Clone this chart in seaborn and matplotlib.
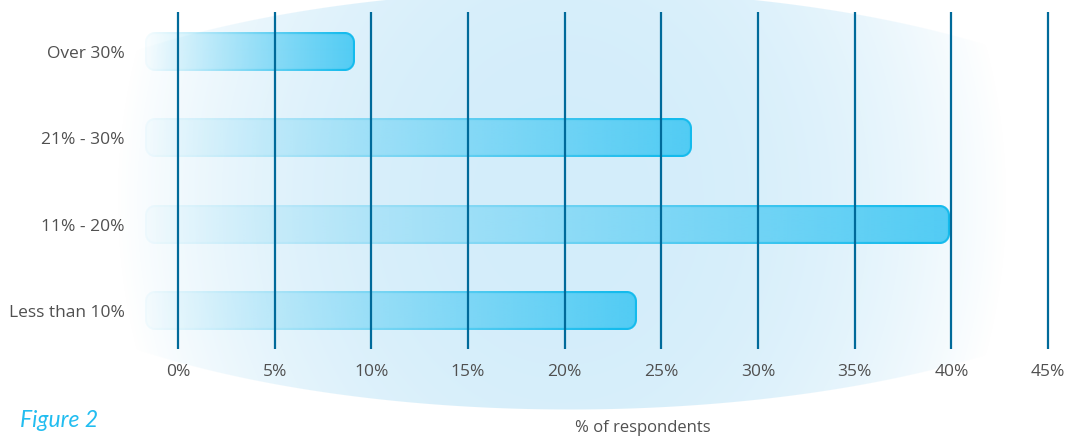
import numpy as np
import matplotlib
matplotlib.use("Agg")
import matplotlib.pyplot as plt
import seaborn as sns

# ---- data ----
categories = ["Over 30%", "21% - 30%", "11% - 20%", "Less than 10%"]
values = [9.15, 26.55, 39.9, 23.7]
tick_values = [0, 5, 10, 15, 20, 25, 30, 35, 40, 45]
tick_labels = [f"{t}%" for t in tick_values]
x_label = "% of respondents"
figure_caption = "Figure 2"

sns.set_theme(style="white")
plt.rcParams["font.family"] = ["Open Sans", "DejaVu Sans"]

W_PX, H_PX = 1071, 440
fig = plt.figure(figsize=(W_PX / 100, H_PX / 100), dpi=100)
fig.patch.set_facecolor("white")

# ---- background glow ----
bg = fig.add_axes([0, 0, 1, 1], zorder=0)
bg.set_xlim(0, W_PX)
bg.set_ylim(H_PX, 0)
bg.axis("off")
yy, xx = np.mgrid[0:H_PX, 0:W_PX] + 0.5
d = np.sqrt(((xx - 562) / 445.0) ** 2 + ((yy - 200) / 520.0) ** 2)
inten = np.clip(1 - d ** 2.6, 0, 1)
e = ((xx - 570) / 620.0) ** 2 + ((yy - 200) / 210.0) ** 2
edge = np.clip((1 - np.sqrt(e)) * 210, 0, 1)
glow = np.zeros((H_PX, W_PX, 4))
glow[..., 0] = 0xd3 / 255
glow[..., 1] = 0xed / 255
glow[..., 2] = 0xfa / 255
glow[..., 3] = inten * edge
bg.imshow(glow, extent=(0, W_PX, H_PX, 0), interpolation="bilinear", aspect="auto")

# ---- main axes ----
ax = fig.add_axes([140 / W_PX, 1 - 349 / H_PX, 920 / W_PX, 337 / H_PX], zorder=1)
ax.patch.set_alpha(0)
sns.barplot(x=values, y=categories, orient="h", ax=ax, width=0.44, color="#4ecbf4")

XLIM = (-1.966, 45.62)
YLIM = (3.44, -0.462)
ax.set_xlim(*XLIM)
ax.set_ylim(*YLIM)

px_per_x = 920 / (XLIM[1] - XLIM[0])
px_per_y = 337 / (YLIM[0] - YLIM[1])

bar_start = -1.7
fill_c = np.array([0x4e, 0xcb, 0xf4]) / 255
border_c = np.array([0x14, 0xbb, 0xed]) / 255

for p in list(ax.patches):
    x1 = p.get_x() + p.get_width()
    y0 = p.get_y()
    h = p.get_height()
    p.set_visible(False)
    W = int(round((x1 - bar_start) * px_per_x))
    H = int(round(h * px_per_y))
    v, u = np.mgrid[0:H, 0:W] + 0.5
    r = 10.0
    dx = np.maximum(np.maximum(r - u, u - (W - r)), 0)
    dy = np.maximum(np.maximum(r - v, v - (H - r)), 0)
    dist = np.sqrt(dx ** 2 + dy ** 2) - r
    inside = np.clip(0.5 - dist, 0, 1)
    bw = np.clip(dist + 2.6, 0, 1)
    ramp = u / W
    a_fill = 0.03 + 0.95 * ramp
    a_border = np.clip(0.05 + 1.0 * ramp ** 1.1, 0, 1)
    img = np.zeros((H, W, 4))
    for k in range(3):
        img[..., k] = fill_c[k] * (1 - bw) + border_c[k] * bw
    img[..., 3] = inside * (a_fill * (1 - bw) + a_border * bw)
    ax.imshow(img, extent=(bar_start, x1, y0 + h, y0), aspect="auto",
              interpolation="bilinear", zorder=3)

ax.set_xlim(*XLIM)
ax.set_ylim(*YLIM)

for tv in tick_values:
    ax.axvline(tv, color="#006a9a", lw=1.6, zorder=5)

ax.set_xticks(tick_values)
ax.set_xticklabels(tick_labels)
ax.set_yticks(range(len(categories)))
ax.set_yticklabels(categories)
ax.tick_params(axis="both", length=0, labelsize=12.5, labelcolor="#505050")
ax.tick_params(axis="y", pad=11)
ax.tick_params(axis="x", pad=11)
ax.set_xlabel("")
ax.set_ylabel("")
for s in ax.spines.values():
    s.set_visible(False)

fig.text(643 / W_PX, 1 - 428 / H_PX, x_label, ha="center", va="center",
         fontsize=12, color="#505050")
fig.text(20 / W_PX, 1 - 420 / H_PX, figure_caption, ha="left", va="center",
         fontsize=16.5, color="#22bdf0", style="italic",
         family=["Lato", "DejaVu Sans"])

fig.savefig("out.png", dpi=100)
